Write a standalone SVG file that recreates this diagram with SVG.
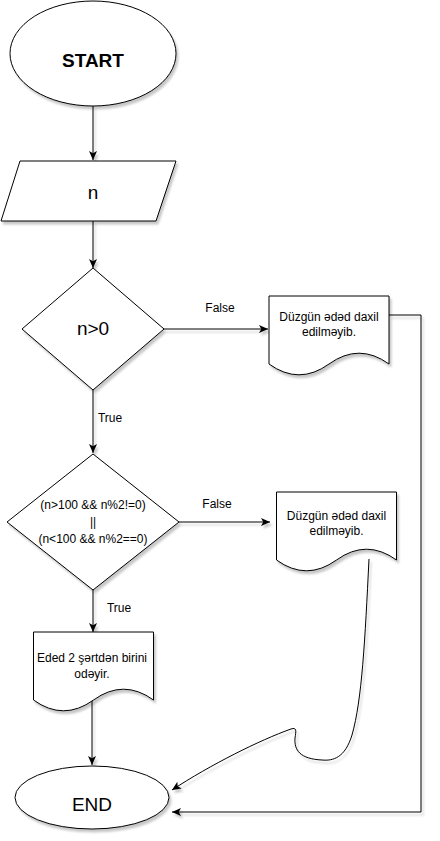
<svg xmlns="http://www.w3.org/2000/svg" width="440" height="841" viewBox="0 0 440 841">
<defs>
<filter id="sh" filterUnits="userSpaceOnUse" x="0" y="0" width="440" height="841">
<feDropShadow dx="2" dy="3" stdDeviation="1" flood-color="#000" flood-opacity="0.22"/>
</filter>
<marker id="arr" markerUnits="userSpaceOnUse" markerWidth="10" markerHeight="9" refX="9" refY="4" orient="auto">
<path d="M0,0 L9,4 L0,8 L2.25,4 Z" fill="#000"/>
</marker>
<style>
.shape{fill:#fff;stroke:#000;stroke-width:1;filter:url(#sh)}
.edge{fill:none;stroke:#000;stroke-width:1;marker-end:url(#arr);filter:url(#sh)}
.t{font-family:"Liberation Sans",Arial,sans-serif;fill:#000;text-anchor:middle}
.big{font-size:19px}
.sm{font-size:12px}
</style>
</defs>
<g id="connectors">
<path class="edge" d="M93,106 V160"/>
<path class="edge" d="M93,221 V268"/>
<path class="edge" d="M164,329 H268"/>
<path class="edge" d="M93,390 V453"/>
<path class="edge" d="M179,522 H270"/>
<path class="edge" d="M93,590 V632"/>
<path class="edge" d="M92,700 V765"/>
<path class="edge" d="M389,315 H421 V812 H172"/>
<path class="edge" d="M369,559 C365,640 362,700 352,735 C345,758 333,761 322,760 C300,759 294,750 295,738 C296,731 297,727 291,729 C260,740 210,765 172,790"/>
<text class="t sm" x="220" y="312">False</text>
<text class="t sm" x="110" y="422">True</text>
<text class="t sm" x="217" y="508">False</text>
<text class="t sm" x="119" y="612">True</text>
</g>
<g id="start">
<ellipse class="shape" cx="93" cy="53.5" rx="83" ry="52.5"/>
<text class="t big" x="93" y="67" font-weight="bold">START</text>
</g>
<g id="input-n">
<path class="shape" d="M20,161 H176 L156,221 H1 Z"/>
<text class="t big" x="93" y="199">n</text>
</g>
<g id="cond1">
<path class="shape" d="M93,268 L164,329 L93,390 L22,329 Z"/>
<text class="t big" x="93" y="335">n&gt;0</text>
</g>
<g id="doc1">
<path class="shape" d="M269,296 H389 V364 Q359,342.4 329,364 Q299,385.6 269,364 Z"/>
<text class="t sm" x="329" y="321">Düzgün ədəd daxil</text>
<text class="t sm" x="329" y="336">edilməyib.</text>
</g>
<g id="cond2">
<path class="shape" d="M93,454 L179,522 L93,590 L7,522 Z"/>
<text class="t sm" x="93" y="509">(n&gt;100 &amp;&amp; n%2!=0)</text>
<text class="t sm" x="93" y="526">||</text>
<text class="t sm" x="93" y="543">(n&lt;100 &amp;&amp; n%2==0)</text>
</g>
<g id="doc2">
<path class="shape" d="M276.5,492 H396.5 V560 Q366.5,538.4 336.5,560 Q306.5,581.6 276.5,560 Z"/>
<text class="t sm" x="336.5" y="520">Düzgün ədəd daxil</text>
<text class="t sm" x="336.5" y="535">edilməyib.</text>
</g>
<g id="doc3">
<path class="shape" d="M33.5,632 H153.5 V700 Q123.5,678.4 93.5,700 Q63.5,721.6 33.5,700 Z"/>
<text class="t sm" x="92" y="662">Eded 2 şərtdən birini</text>
<text class="t sm" x="92" y="678">odəyir.</text>
</g>
<g id="end">
<ellipse class="shape" cx="92" cy="797.5" rx="77" ry="31.5"/>
<text class="t big" x="92" y="811">END</text>
</g>
</svg>
